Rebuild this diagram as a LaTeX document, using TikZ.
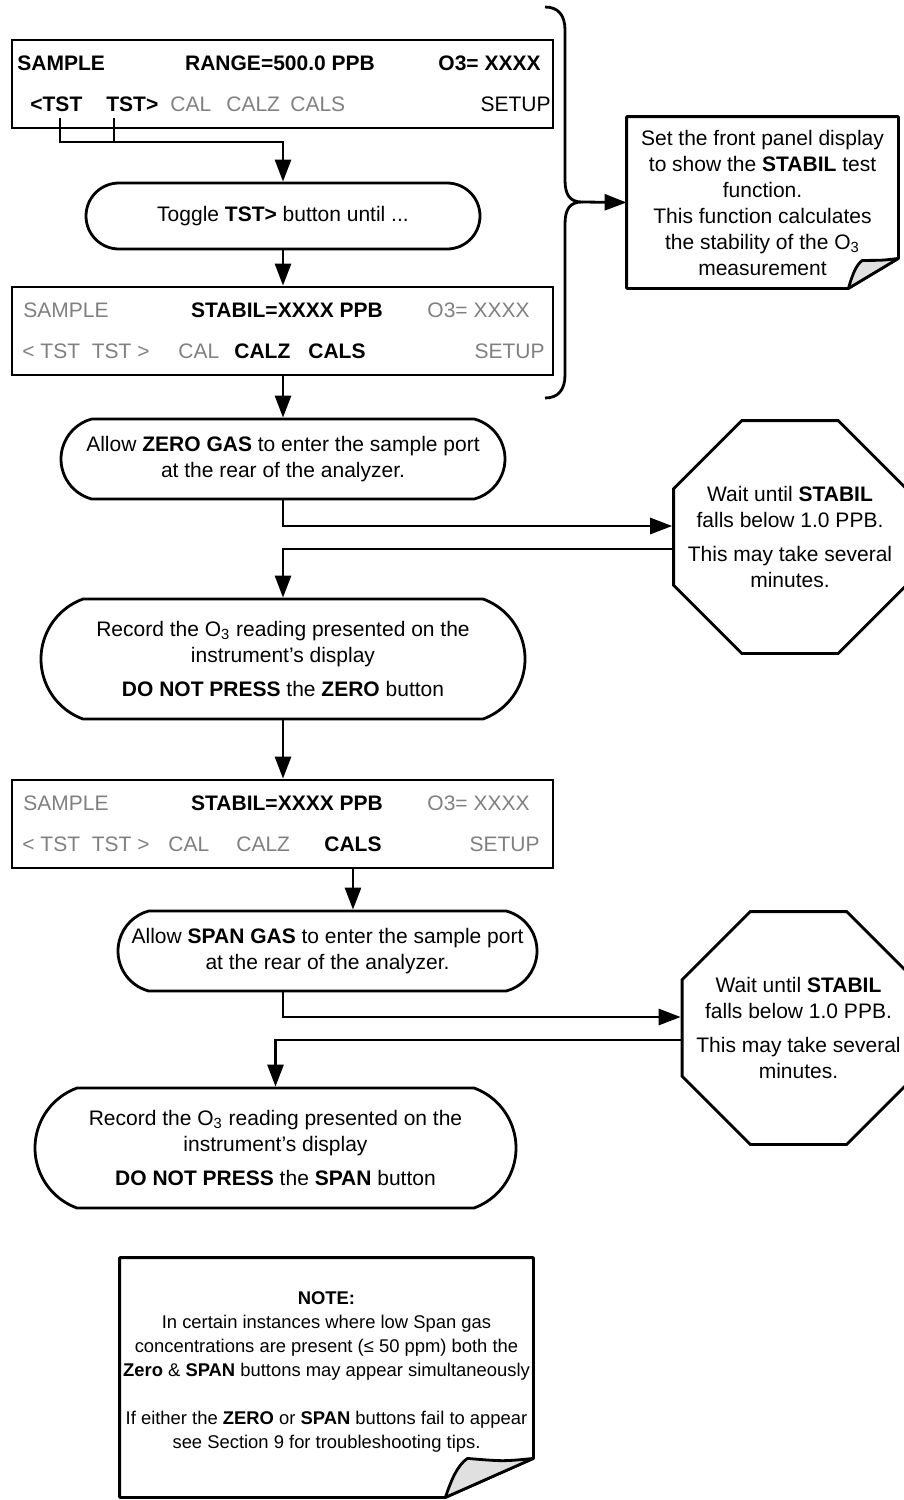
\documentclass[tikz,border=0pt]{standalone}
\usepackage{fontspec}
\setmainfont{Liberation Sans}
\usetikzlibrary{arrows.meta,calc,positioning,shapes.geometric,shapes.misc}
\definecolor{dimgrey}{HTML}{808080}
\definecolor{flapgrey}{HTML}{E0E0E0}
\tikzset{
  panel/.style={draw,line width=1.4pt,rectangle,minimum width=270.5pt,minimum height=44pt,inner sep=0pt},
  ptext/.style={inner sep=0pt},
  off/.style={ptext,text=dimgrey},
  stepbox/.style={draw,line width=1.4pt,rounded rectangle,inner sep=0pt},
  waitbox/.style={draw,line width=1.4pt,regular polygon,regular polygon sides=8,minimum size=126pt,inner sep=0pt},
  notebox/.style={rectangle,inner sep=0pt,align=center},
  flow/.style={->,line width=1.4pt},
  link/.style={line width=1.4pt,line join=round}
}

\begin{document}
\begin{tikzpicture}[x=0.5pt,y=-0.5pt,>={Triangle[length=11pt,width=8pt]},font=\fontsize{10.5}{13}\selectfont]
\useasboundingbox (0,0) rectangle (904,1500);

% first display
\node[panel] (disp1) at (282.5,84) {};
\node[ptext,anchor=base west] (d1sample) at (17,70) {\textbf{SAMPLE}};
\node[ptext,anchor=base] (d1range) at (280,70) {\textbf{RANGE=500.0 PPB}};
\node[ptext,anchor=base east] (d1ozone) at (541,70) {\textbf{O3= XXXX}};
\node[ptext,anchor=base west] (d1tstl) at (30,111) {\textbf{<TST}};
\node[ptext,anchor=base west] (d1tstr) at (106,111) {\textbf{TST>}};
\node[off,anchor=base west] (d1cal) at (170,111) {CAL};
\node[off,anchor=base west] (d1calz) at (226,111) {CALZ};
\node[off,anchor=base west] (d1cals) at (290,111) {CALS};
\node[ptext,anchor=base east] (d1setup) at (551,111) {SETUP};

\node[stepbox,rounded rectangle arc length=180,minimum width=197pt,minimum height=33pt] (toggle) at (283,216) {};
\node[ptext] (toggletxt) at (toggle.center) {Toggle \textbf{TST>} button until ...};

% second display
\node[panel] (disp2) at (282.5,331) {};
\node[off,anchor=base west] (d2sample) at (23,317) {SAMPLE};
\node[ptext,anchor=base] (d2stabil) at (287,317) {\textbf{STABIL=XXXX PPB}};
\node[off,anchor=base east] (d2ozone) at (530,317) {O3= XXXX};
\node[off,anchor=base west] (d2tst) at (22,358) {< TST\ \ TST >};
\node[off,anchor=base west] (d2cal) at (178,358) {CAL};
\node[ptext,anchor=base west] (d2calz) at (234,358) {\textbf{CALZ}};
\node[ptext,anchor=base west] (d2cals) at (308,358) {\textbf{CALS}};
\node[off,anchor=base east] (d2setup) at (545,358) {SETUP};

% brace and first note
\node[notebox,minimum width=135.5pt,minimum height=85.5pt] (note1) at (762.5,202.5) {Set the front panel display\\ to show the \textbf{STABIL} test\\ function.\\ This function calculates\\ the stability of the O\textsubscript{3}\\ measurement};
\draw[link] (note1.north west) -- (note1.north east) -- ([yshift=15pt]note1.south east) -- ([xshift=-25pt]note1.south east) -- (note1.south west) -- cycle;
\filldraw[link,fill=flapgrey] ([xshift=-25pt]note1.south east) .. controls ([xshift=-23pt,yshift=7pt]note1.south east) and ([xshift=-21pt,yshift=12pt]note1.south east) .. ([xshift=-18pt,yshift=14pt]note1.south east) .. controls ([xshift=-8pt,yshift=14pt]note1.south east) .. ([yshift=15pt]note1.south east) -- cycle;
\draw[link] (545,7) .. controls (558,7) and (565,15) .. (565,30) -- (565,180) .. controls (565,195) and (570,202) .. (582,202) coordinate (bracetip) .. controls (570,202) and (565,209) .. (565,224) -- (565,375) .. controls (565,390) and (558,398) .. (545,398);
\draw[flow] (bracetip) -- (note1.west);

% zero gas
\node[stepbox,rounded rectangle arc length=150,minimum width=222pt,minimum height=40pt] (zero) at (283,459) {};
\node[ptext,align=center] (zerotxt) at (zero.center) {Allow \textbf{ZERO GAS} to enter the sample port\\ at the rear of the analyzer.};
\node[waitbox] (wait1) at (790,537) {};
\node[ptext,align=center] (wait1txt) at (wait1.center) {Wait until \textbf{STABIL}\\ falls below 1.0 PPB.\\[4pt] This may take several\\ minutes.};
\node[stepbox,rounded rectangle arc length=140,minimum width=242pt,minimum height=60pt] (rec1) at (283,659) {};
\node[ptext,align=center] (rec1txt) at (rec1.center) {Record the O\textsubscript{3} reading presented on the\\ instrument’s display\\[4pt] \textbf{DO NOT PRESS} the \textbf{ZERO} button};

% third display
\node[panel] (disp3) at (282.5,824) {};
\node[off,anchor=base west] (d3sample) at (23,810) {SAMPLE};
\node[ptext,anchor=base] (d3stabil) at (287,810) {\textbf{STABIL=XXXX PPB}};
\node[off,anchor=base east] (d3ozone) at (530,810) {O3= XXXX};
\node[off,anchor=base west] (d3tst) at (22,851) {< TST\ \ TST >};
\node[off,anchor=base west] (d3cal) at (168,851) {CAL};
\node[off,anchor=base west] (d3calz) at (236,851) {CALZ};
\node[ptext,anchor=base west] (d3cals) at (324,851) {\textbf{CALS}};
\node[off,anchor=base east] (d3setup) at (540,851) {SETUP};

% span gas
\node[stepbox,rounded rectangle arc length=150,minimum width=209.5pt,minimum height=40pt] (span) at (327.5,951) {};
\node[ptext,align=center] (spantxt) at (span.center) {Allow \textbf{SPAN GAS} to enter the sample port\\ at the rear of the analyzer.};
\node[waitbox] (wait2) at (798.5,1028) {};
\node[ptext,align=center] (wait2txt) at (wait2.center) {Wait until \textbf{STABIL}\\ falls below 1.0 PPB.\\[4pt] This may take several\\ minutes.};
\node[stepbox,rounded rectangle arc length=140,minimum width=240.5pt,minimum height=60pt] (rec2) at (275.5,1148) {};
\node[ptext,align=center] (rec2txt) at (rec2.center) {Record the O\textsubscript{3} reading presented on the\\ instrument’s display\\[4pt] \textbf{DO NOT PRESS} the \textbf{SPAN} button};

% bottom note
\node[notebox,minimum width=206.5pt,minimum height=119.5pt] (note2) at (326.5,1377.5) {};
\node[ptext,align=center,font=\fontsize{9.2}{12}\selectfont] (note2txt) at ([yshift=3pt]note2.center) {\textbf{NOTE:}\\ In certain instances where low Span gas\\ concentrations are present (≤ 50 ppm) both the\\ \textbf{Zero} \& \textbf{SPAN} buttons may appear simultaneously\\[12pt] If either the \textbf{ZERO} or \textbf{SPAN} buttons fail to appear\\ see Section 9 for troubleshooting tips.};
\draw[link] (note2.north west) -- (note2.north east) -- ([yshift=19.5pt]note2.south east) -- ([xshift=-44pt]note2.south east) -- (note2.south west) -- cycle;
\filldraw[link,fill=flapgrey] ([xshift=-44pt]note2.south east) .. controls ([xshift=-41pt,yshift=9pt]note2.south east) and ([xshift=-38pt,yshift=16pt]note2.south east) .. ([xshift=-33pt,yshift=19.5pt]note2.south east) .. controls ([xshift=-15pt,yshift=18pt]note2.south east) .. ([yshift=19.5pt]note2.south east) -- cycle;

% connectors
\coordinate (tickl) at (60,118);
\coordinate (tickr) at (114,118);
\coordinate (tstjoin) at (283,142);
\draw[link] (tickr) -- (tickr |- tstjoin);
\draw[flow] (tickl) |- (tstjoin) -- (toggle.north);
\draw[flow] (toggle.south) -- (disp2.north -| toggle.south);
\draw[flow] (disp2.south -| zero.north) -- (zero.north);
\draw[flow] (zero.south) |- ([yshift=5.5pt]wait1.west);
\draw[flow] ([yshift=-6pt]wait1.west) -| (rec1.north);
\draw[flow] (rec1.south) -- (disp3.north -| rec1.south);
\draw[flow] (disp3.south -| d3cals) -- (span.north -| d3cals);
\draw[flow] (span.south -| rec1.south) |- ([yshift=5.5pt]wait2.west);
\draw[flow] ([yshift=-6pt]wait2.west) -| (rec2.north);
\end{tikzpicture}
\end{document}
